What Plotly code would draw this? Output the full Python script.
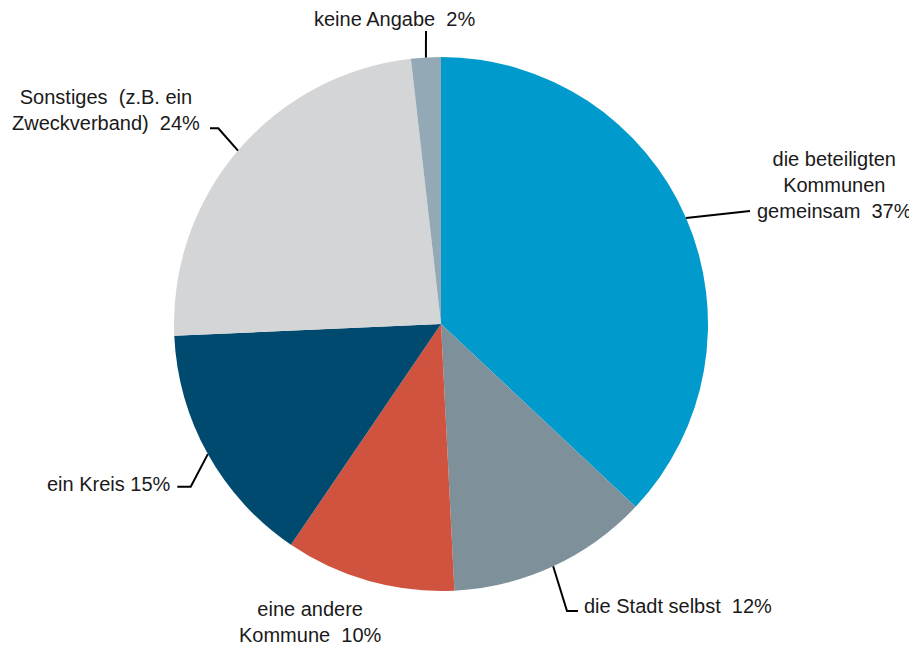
import plotly.graph_objects as go
import math

# ---- data ----
categories = [
    "die beteiligten Kommunen gemeinsam",
    "die Stadt selbst",
    "eine andere Kommune",
    "ein Kreis",
    "Sonstiges (z.B. ein Zweckverband)",
    "keine Angabe",
]
values = [37.0, 12.2, 10.3, 14.8, 23.9, 1.8]
label_texts = [
    "die beteiligten<br>Kommunen<br>gemeinsam\u00a0 37%",
    "die Stadt selbst\u00a0 12%",
    "eine andere<br>Kommune\u00a0 10%",
    "ein Kreis 15%",
    "Sonstiges\u00a0 (z.B. ein<br>Zweckverband)\u00a0 24%",
    "keine Angabe\u00a0 2%",
]
colors = ["#009ACD", "#7E909A", "#CF533E", "#004A6F", "#D4D5D7", "#93AAB6"]

# ---- layout (pixels, in reference screenshot coordinates) ----
W, H = 917, 646
OFF = 8  # page body margin offset of the plot div
CX, CY, R = 441, 324, 267
FONT = dict(family="Liberation Sans, Arial, sans-serif", size=20, color="#1a1a1a")

label_pos = [
    dict(x=834, y=185, xanchor="center"),
    dict(x=582, y=606, xanchor="left"),
    dict(x=310, y=622, xanchor="center"),
    dict(x=173, y=484, xanchor="right"),
    dict(x=106, y=110, xanchor="center"),
    dict(x=394, y=19, xanchor="center"),
]
leader_pts = [
    [(750, 211)],
    [(567, 611), (578, 611)],
    None,
    [(190.7, 486.7), (177.3, 486.7)],
    [(218.3, 128.3), (210, 128.3)],
    [(426, 31)],
]


def px(x):
    return (x - OFF) / W


def py(y):
    return 1 - (y - OFF) / H


fig = go.Figure(
    go.Pie(
        labels=categories,
        values=values,
        sort=False,
        direction="clockwise",
        rotation=0,
        marker=dict(colors=colors, line=dict(width=0)),
        textinfo="none",
        hoverinfo="label+percent",
        domain=dict(x=[px(CX - R), px(CX + R)], y=[py(CY + R), py(CY - R)]),
    )
)

total = sum(values)
cum = 0.0
shapes = []
annotations = []
for i, v in enumerate(values):
    mid = (cum + v / 2) / total * 2 * math.pi
    cum += v
    ex = CX + R * math.sin(mid)
    ey = CY - R * math.cos(mid)
    pts = leader_pts[i]
    if pts:
        path = f"M {px(ex)} {py(ey)}"
        for (x, y) in pts:
            path += f" L {px(x)} {py(y)}"
        shapes.append(dict(type="path", xref="paper", yref="paper", path=path,
                           line=dict(color="#000000", width=2)))
    lp = label_pos[i]
    annotations.append(dict(
        x=px(lp["x"]), y=py(lp["y"]), xref="paper", yref="paper",
        xanchor=lp["xanchor"], yanchor="middle", text=label_texts[i],
        showarrow=False, align="center", font=FONT,
    ))

fig.update_layout(
    width=W, height=H,
    margin=dict(l=0, r=0, t=0, b=0),
    paper_bgcolor="white",
    plot_bgcolor="white",
    showlegend=False,
    shapes=shapes,
    annotations=annotations,
)

fig.write_html("out.html")
